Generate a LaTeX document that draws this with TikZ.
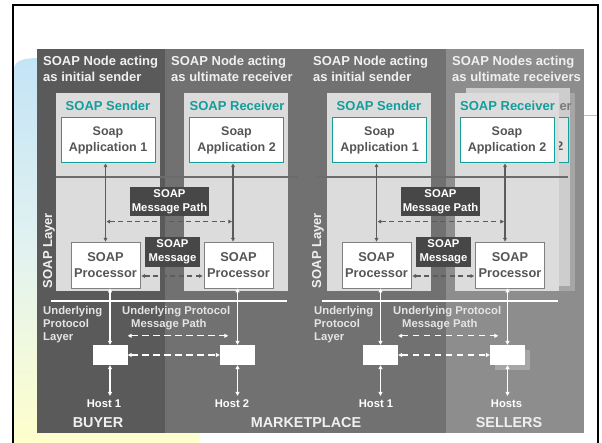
\documentclass[tikz,border=0pt]{standalone}
\usepackage{fontspec}
\setmainfont{Liberation Sans}
\usetikzlibrary{arrows.meta,calc,shadows}

\definecolor{buyerbg}{HTML}{5A5A5A}
\definecolor{marketbg}{HTML}{717171}
\definecolor{sellerbg}{HTML}{8D8D8D}
\definecolor{nodebg}{HTML}{DCDCDC}
\definecolor{backbg}{HTML}{CDCDCD}
\definecolor{backshade}{HTML}{A6A6A6}
\definecolor{tealink}{HTML}{139D9B}
\definecolor{inktxt}{HTML}{555555}
\definecolor{tagbg}{HTML}{474747}
\definecolor{pathgray}{HTML}{5C5C5C}
\definecolor{headtxt}{HTML}{F0F0F0}
\definecolor{undertxt}{HTML}{E4E4E4}
\definecolor{skytint}{HTML}{C4E4F6}
\definecolor{midtint}{HTML}{E2F2F0}
\definecolor{creamtint}{HTML}{FFFFCC}

\tikzset{
  fs/.style args={#1/#2}{font=\fontsize{#1}{#2}\selectfont\bfseries},
  nodebox/.style={fill=nodebg, inner sep=0, minimum width=104pt, minimum height=198pt},
  sendertitle/.style={text=tealink, fs=13/15, inner sep=0},
  appbox/.style={draw=tealink, line width=1pt, fill=white, minimum width=94pt,
    minimum height=45pt, inner sep=0, text=inktxt, align=center, fs=12.5/16},
  procbox/.style={draw=gray, line width=0.8pt, fill=white, minimum width=69pt,
    minimum height=46pt, inner sep=0, text=inktxt, align=center, fs=12.8/16},
  tagbox/.style={fill=tagbg, text=white, align=center, inner sep=0, fs=11.3/14},
  protbox/.style={fill=white, minimum width=35pt, minimum height=20pt, inner sep=0},
  header/.style={text=headtxt, align=left, anchor=west, inner sep=0, fs=13/16},
  undertext/.style={text=undertxt, align=left, anchor=west, inner sep=0, fs=11.3/13},
  hostlbl/.style={text=white, inner sep=0, fs=11.2/13},
  partylbl/.style={text=headtxt, inner sep=0, fs=14.4/16},
  layerlbl/.style={text=headtxt, inner sep=0, rotate=90, fs=13/15},
  darr/.style={{Triangle[length=3.6pt,width=3.6pt]}-{Triangle[length=3.6pt,width=3.6pt]},
    draw=pathgray, line width=1.2pt},
  ddash/.style={darr, dash pattern=on 5pt off 3.5pt, shorten <=1pt, shorten >=1pt},
  warr/.style={{Triangle[length=4pt,width=4pt]}-{Triangle[length=4pt,width=4pt]},
    draw=white, line width=1.4pt},
  wdash/.style={warr, dash pattern=on 6.5pt off 4.5pt},
  layerline/.style={draw=pathgray!90, line width=2pt},
  baseline/.style={draw=white, line width=1.6pt}
}

\begin{document}
\begin{tikzpicture}[x=1pt,y=-1pt]
\useasboundingbox (0,0) rectangle (602,443);
\fill[white] (0,0) rectangle (602,443);

% slide decoration: tinted strip on the left and frame
\shade[top color=skytint, bottom color=creamtint, middle color=midtint]
  (14,443) -- (14,70) .. controls (14,60) and (24,58) .. (40,58) -- (200,58) -- (200,443) -- cycle;
\draw[line width=0.8pt, color=black!25] (584,115) -- (597,115);
\draw[line width=2pt] (13,443) -- (13,5) -- (598,5) -- (598,443);

% party columns
\fill[buyerbg]  (37,49) rectangle (165,433);
\fill[marketbg] (165,49) rectangle (446,433);
\fill[sellerbg] (446,49) rectangle (584,433);

% column headers
\node[header] (hA) at (43,69)  {SOAP Node acting\\as initial sender};
\node[header] (hB) at (171,69) {SOAP Node acting\\as ultimate receiver};
\node[header] (hC) at (313,69) {SOAP Node acting\\as initial sender};
\node[header] (hD) at (452,69) {SOAP Nodes acting\\as ultimate receivers};

% stacked receiver behind the front one (several sellers); only the
% right-hand edge of its title and application box shows
\node[nodebox, fill=backbg, drop shadow={shadow xshift=5pt, shadow yshift=-5pt,
  fill=backshade, opacity=1}] (backD) at (518,187) {};
\node[sendertitle, text=black!52, anchor=east] (backTitle) at (572,107) {er};
\node[appbox, fill=black!10, minimum width=90pt] (backApp) at (523,140.5) {};
\node[text=inktxt, fs=12.5/16, inner sep=0, anchor=east] (backNum) at (563.5,146.5) {2};

% SOAP nodes
\node[nodebox] (nodeA) at (108,192) {};
\node[nodebox] (nodeB) at (236,192) {};
\node[nodebox] (nodeC) at (379,192) {};
\node[nodebox] (nodeD) at (506.5,192) {};

\node[sendertitle] (tA) at (108,106)   {SOAP Sender};
\node[sendertitle] (tB) at (237,106)   {SOAP Receiver};
\node[sendertitle] (tC) at (379,106)   {SOAP Sender};
\node[sendertitle] (tD) at (507.5,106) {SOAP Receiver};

% layer separators
\draw[layerline] (56,177) -- (298,177);
\draw[layerline] (317,177) -- (568,177);
\draw[baseline] (51,301) -- (287,301);
\draw[baseline] (322,301) -- (558,301);

% applications
\node[appbox] (appA) at (108,140.5)   {Soap\\Application 1};
\node[appbox] (appB) at (236.5,140.5) {Soap\\Application 2};
\node[appbox] (appC) at (379.5,140.5) {Soap\\Application 1};
\node[appbox] (appD) at (507,140.5)   {Soap\\Application 2};

% SOAP processors
\node[procbox] (procA) at (105.5,265) {SOAP\\Processor};
\node[procbox] (procB) at (238.5,265) {SOAP\\Processor};
\node[procbox] (procC) at (376.5,265) {SOAP\\Processor};
\node[procbox] (procD) at (510,265)   {SOAP\\Processor};

% message labels
\node[tagbox, minimum width=79pt, minimum height=29pt] (pathAB) at (169.5,201.5) {SOAP\\Message Path};
\node[tagbox, minimum width=55pt, minimum height=30pt] (msgAB)  at (172.5,252)   {SOAP\\Message};
\node[tagbox, minimum width=79pt, minimum height=29pt] (pathCD) at (440.5,201.5) {SOAP\\Message Path};
\node[tagbox, minimum width=55pt, minimum height=30pt] (msgCD)  at (443.5,252)   {SOAP\\Message};

% layer names
\node[layerlbl] (layA) at (49,250.5)  {SOAP Layer};
\node[layerlbl] (layC) at (318,250.5) {SOAP Layer};
\node[undertext] (uA) at (43,325)  {Underlying\\Protocol\\Layer};
\node[undertext] (uC) at (314,325) {Underlying\\Protocol\\Layer};
\node[undertext] (upAB) at (122,318.5) {Underlying Protocol\\\hspace*{9pt}Message Path};
\node[undertext] (upCD) at (393,318.5) {Underlying Protocol\\\hspace*{9pt}Message Path};

% protocol endpoints
\node[protbox] (protA) at (110,355)   {};
\node[protbox] (protB) at (237.5,355) {};
\node[protbox] (protC) at (380.5,355) {};
\node[protbox, drop shadow={shadow xshift=5pt, shadow yshift=-5pt,
  fill=backshade, opacity=1}] (protD) at (507.5,355) {};

% hosts and parties
\node[hostlbl] (host1) at (104,404)   {Host 1};
\node[hostlbl] (host2) at (232,404)   {Host 2};
\node[hostlbl] (host3) at (376,404)   {Host 1};
\node[hostlbl] (hosts) at (506.5,404) {Hosts};
\node[partylbl] (buyer)  at (98,423)  {BUYER};
\node[partylbl] (market) at (306,423) {MARKETPLACE};
\node[partylbl] (seller) at (509,423) {SELLERS};

% SOAP layer connectors
\coordinate (rB) at ([xshift=-5.5pt]procB.north);
\coordinate (rD) at ([xshift=-5pt]procD.north);
\draw[darr] (appA.south -| procA.north) -- (procA.north);
\draw[darr] (appB.south -| rB) -- (rB);
\draw[darr] (appC.south -| procC.north) -- (procC.north);
\draw[darr] (appD.south -| rD) -- (rD);
\draw[ddash] ([yshift=20pt]procA.north) -- ([yshift=20pt]rB);
\draw[ddash] ([yshift=20pt]procC.north) -- ([yshift=20pt]rD);
\draw[ddash] ([yshift=-11pt]procA.east) -- ([yshift=-11pt]procB.west);
\draw[ddash] ([yshift=-11pt]procC.east) -- ([yshift=-11pt]procD.west);

% underlying protocol connectors
\draw[warr] (procA.south -| protA.north) -- (protA.north);
\draw[warr] (procB.south -| protB.north) -- (protB.north);
\draw[warr] (procC.south -| protC.north) -- (protC.north);
\draw[warr] (procD.south -| protD.north) -- (protD.north);
\draw[wdash] ([yshift=9pt]protA.north east) -- ([shift={(8.5pt,9pt)}]protB.north west);
\draw[wdash] ([yshift=9pt]protC.north east) -- ([shift={(8.5pt,9pt)}]protD.north west);
\draw[wdash] (protA.east) -- (protB.west);
\draw[wdash] (protC.east) -- (protD.west);
\draw[warr, shorten >=4pt] (protA.south) -- (protA.south |- host1.north);
\draw[warr, shorten >=4pt] (protB.south) -- (protB.south |- host2.north);
\draw[warr, shorten >=4pt] (protC.south) -- (protC.south |- host3.north);
\draw[warr, shorten >=4pt] (protD.south) -- (protD.south |- hosts.north);
\end{tikzpicture}
\end{document}
